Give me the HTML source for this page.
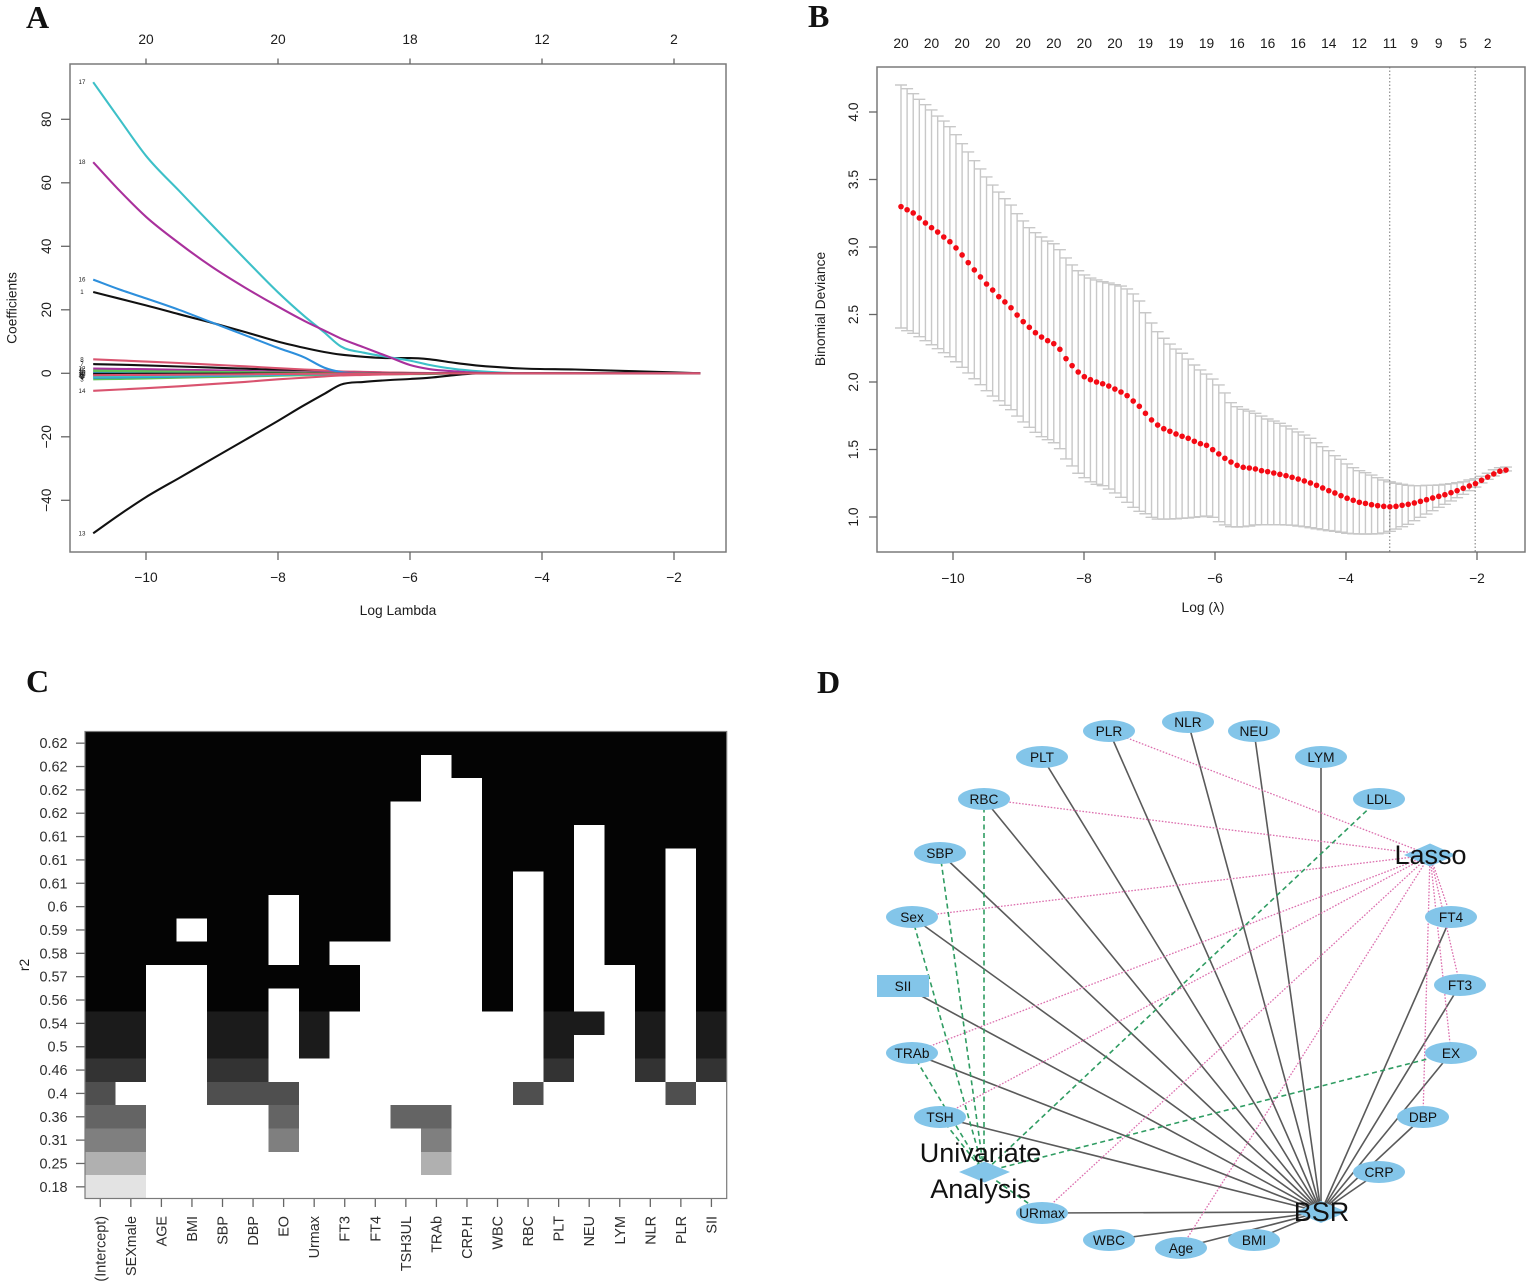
<!DOCTYPE html>
<html lang="en">
<head>
<meta charset="utf-8">
<title>Lasso regression, best subset and variable selection network</title>
<style>
html,body{margin:0;padding:0;background:#fff;}
svg{display:block;filter:blur(0.35px);}
text{font-family:"Liberation Sans",sans-serif;fill:#1c1c1c;}
.letter{font-family:"Liberation Serif",serif;font-weight:bold;font-size:32px;fill:#111;}
.tick{font-size:13.8px;}
.ctick{font-size:14.4px;fill:#2c2c2c;}
.node{fill:#83c5e9;stroke:none;}
.nlabel{font-size:13.7px;text-anchor:middle;fill:#111;}
.big{font-size:27px;text-anchor:middle;fill:#111;}
.solid{stroke:#5a5a5a;stroke-width:1.6;}
.pink{stroke:#dc6fae;stroke-width:1.3;stroke-dasharray:1.6 1.6;}
.green{stroke:#2f9c62;stroke-width:1.6;stroke-dasharray:5 3.5;}
</style>
</head>
<body>
<svg id="figure" xmlns="http://www.w3.org/2000/svg" width="1535" height="1287" viewBox="0 0 1535 1287">
<rect x="0" y="0" width="1535" height="1287" fill="#fff"/>
<text class="letter" x="26" y="28">A</text>
<text class="letter" x="808" y="27">B</text>
<text class="letter" x="26" y="692">C</text>
<text class="letter" x="817" y="693">D</text>

<g id="panelA"></g>
<g id="panelB"></g>
<g id="panelC"></g>

<g id="panelD">
<g>
<line class="solid" x1="1042" y1="757" x2="1321" y2="1212"/>
<line class="solid" x1="1109" y1="731" x2="1321" y2="1212"/>
<line class="solid" x1="1188" y1="722" x2="1321" y2="1212"/>
<line class="solid" x1="1254" y1="731" x2="1321" y2="1212"/>
<line class="solid" x1="1321" y1="757" x2="1321" y2="1212"/>
<line class="solid" x1="984" y1="799" x2="1321" y2="1212"/>
<line class="solid" x1="940" y1="853" x2="1321" y2="1212"/>
<line class="solid" x1="912" y1="917" x2="1321" y2="1212"/>
<line class="solid" x1="903" y1="986" x2="1321" y2="1212"/>
<line class="solid" x1="912" y1="1053" x2="1321" y2="1212"/>
<line class="solid" x1="940" y1="1117" x2="1321" y2="1212"/>
<line class="solid" x1="1042" y1="1213" x2="1321" y2="1212"/>
<line class="solid" x1="1109" y1="1240" x2="1321" y2="1212"/>
<line class="solid" x1="1181" y1="1248" x2="1321" y2="1212"/>
<line class="solid" x1="1254" y1="1240" x2="1321" y2="1212"/>
<line class="solid" x1="1379" y1="1172" x2="1321" y2="1212"/>
<line class="solid" x1="1423" y1="1117" x2="1321" y2="1212"/>
<line class="solid" x1="1451" y1="1053" x2="1321" y2="1212"/>
<line class="solid" x1="1460" y1="985" x2="1321" y2="1212"/>
<line class="solid" x1="1451" y1="917" x2="1321" y2="1212"/>
</g>
<g>
<line class="pink" x1="1109" y1="731" x2="1430" y2="855"/>
<line class="pink" x1="984" y1="799" x2="1430" y2="855"/>
<line class="pink" x1="912" y1="917" x2="1430" y2="855"/>
<line class="pink" x1="912" y1="1053" x2="1430" y2="855"/>
<line class="pink" x1="940" y1="1117" x2="1430" y2="855"/>
<line class="pink" x1="1042" y1="1213" x2="1430" y2="855"/>
<line class="pink" x1="1181" y1="1248" x2="1430" y2="855"/>
<line class="pink" x1="1451" y1="917" x2="1430" y2="855"/>
<line class="pink" x1="1460" y1="985" x2="1430" y2="855"/>
<line class="pink" x1="1451" y1="1053" x2="1430" y2="855"/>
<line class="pink" x1="1423" y1="1117" x2="1430" y2="855"/>
</g>
<g>
<line class="green" x1="984" y1="799" x2="984" y2="1172"/>
<line class="green" x1="940" y1="853" x2="984" y2="1172"/>
<line class="green" x1="912" y1="917" x2="984" y2="1172"/>
<line class="green" x1="912" y1="1053" x2="984" y2="1172"/>
<line class="green" x1="940" y1="1117" x2="984" y2="1172"/>
<line class="green" x1="1379" y1="799" x2="984" y2="1172"/>
<line class="green" x1="1451" y1="1053" x2="984" y2="1172"/>
<line class="green" x1="1042" y1="1213" x2="984" y2="1172"/>
</g>
<g>
<polygon class="node" points="1404,855 1430,843.5 1456,855 1430,866.5"/>
<polygon class="node" points="959,1172 984.5,1161.5 1010,1172 984.5,1182.5"/>
<polygon class="node" points="1295,1212 1321,1201 1347,1212 1321,1223"/>
<rect class="node" x="877" y="975" width="52" height="22"/>
<ellipse class="node" cx="1109" cy="731" rx="26" ry="11"/>
<ellipse class="node" cx="1188" cy="722" rx="26" ry="11"/>
<ellipse class="node" cx="1254" cy="731" rx="26" ry="11"/>
<ellipse class="node" cx="1321" cy="757" rx="26" ry="11"/>
<ellipse class="node" cx="1379" cy="799" rx="26" ry="11"/>
<ellipse class="node" cx="1042" cy="757" rx="26" ry="11"/>
<ellipse class="node" cx="984" cy="799" rx="26" ry="11"/>
<ellipse class="node" cx="940" cy="853" rx="26" ry="11"/>
<ellipse class="node" cx="912" cy="917" rx="26" ry="11"/>
<ellipse class="node" cx="912" cy="1053" rx="26" ry="11"/>
<ellipse class="node" cx="940" cy="1117" rx="26" ry="11"/>
<ellipse class="node" cx="1042" cy="1213" rx="26" ry="11"/>
<ellipse class="node" cx="1109" cy="1240" rx="26" ry="11"/>
<ellipse class="node" cx="1181" cy="1248" rx="26" ry="11"/>
<ellipse class="node" cx="1254" cy="1240" rx="26" ry="11"/>
<ellipse class="node" cx="1379" cy="1172" rx="26" ry="11"/>
<ellipse class="node" cx="1423" cy="1117" rx="26" ry="11"/>
<ellipse class="node" cx="1451" cy="1053" rx="26" ry="11"/>
<ellipse class="node" cx="1460" cy="985" rx="26" ry="11"/>
<ellipse class="node" cx="1451" cy="917" rx="26" ry="11"/>
</g>
<g>
<text class="nlabel" x="1109" y="736">PLR</text>
<text class="nlabel" x="1188" y="727">NLR</text>
<text class="nlabel" x="1254" y="736">NEU</text>
<text class="nlabel" x="1321" y="762">LYM</text>
<text class="nlabel" x="1379" y="804">LDL</text>
<text class="nlabel" x="1042" y="762">PLT</text>
<text class="nlabel" x="984" y="804">RBC</text>
<text class="nlabel" x="940" y="858">SBP</text>
<text class="nlabel" x="912" y="922">Sex</text>
<text class="nlabel" x="903" y="991">SII</text>
<text class="nlabel" x="912" y="1058">TRAb</text>
<text class="nlabel" x="940" y="1122">TSH</text>
<text class="nlabel" x="1042" y="1218">URmax</text>
<text class="nlabel" x="1109" y="1245">WBC</text>
<text class="nlabel" x="1181" y="1253">Age</text>
<text class="nlabel" x="1254" y="1245">BMI</text>
<text class="nlabel" x="1379" y="1177">CRP</text>
<text class="nlabel" x="1423" y="1122">DBP</text>
<text class="nlabel" x="1451" y="1058">EX</text>
<text class="nlabel" x="1460" y="990">FT3</text>
<text class="nlabel" x="1451" y="922">FT4</text>
<text class="big" x="1430.5" y="864">Lasso</text>
<text class="big" x="1321.5" y="1221">BSR</text>
<text class="big" x="980.5" y="1162">Univariate</text>
<text class="big" x="980.5" y="1198">Analysis</text>
</g>
</g>
</svg>

<script>
/* ---------- Panel A data ---------- */
const coefLogLambda = [-10.8,-10.4,-10,-9.5,-9,-8.5,-8,-7.6,-7.3,-7.05,-6.7,-6.3,-6,-5.7,-5.3,-5,-4.7,-4.3,-3.5,-2.5,-1.6];
const coef1  = [25.6,23.5,21.4,18.6,15.9,13,10,8,6.7,5.9,5.2,4.8,4.8,4.4,3.2,2.5,2,1.5,1.2,0.6,0];
const coef2  = [0.2,0.18,0.17,0.15,0.12,0.1,0.08,0.05,0.04,0.03,0.02,0.01,0,0,0,0,0,0,0,0,0];
const coef3  = [-1.9,-1.75,-1.6,-1.4,-1.2,-1,-0.75,-0.6,-0.5,-0.42,-0.36,-0.3,-0.26,-0.2,-0.1,-0.03,0,0,0,0,0];
const coef4  = [-1.4,-1.3,-1.2,-1,-0.85,-0.7,-0.5,-0.35,-0.28,-0.2,-0.14,-0.08,-0.05,-0.03,-0.01,0,0,0,0,0,0];
const coef5  = [-1.1,-1,-0.93,-0.8,-0.68,-0.55,-0.4,-0.3,-0.22,-0.15,-0.11,-0.07,-0.04,-0.02,-0.01,0,0,0,0,0,0];
const coef6  = [-0.4,-0.37,-0.34,-0.3,-0.25,-0.2,-0.15,-0.1,-0.08,-0.06,-0.04,-0.02,-0.02,-0.01,0,0,0,0,0,0,0];
const coef7  = [2.9,2.7,2.5,2.15,1.8,1.45,1.1,0.8,0.6,0.4,0.3,0.2,0.1,0.05,0.03,0,0,0,0,0,0];
const coef8  = [4.4,4.05,3.7,3.25,2.7,2.2,1.6,1.2,0.9,0.6,0.45,0.25,0.15,0.1,0.05,0,0,0,0,0,0];
const coef9  = [1,0.9,0.85,0.75,0.6,0.5,0.35,0.25,0.2,0.15,0.1,0.05,0.05,0.03,0.01,0,0,0,0,0,0];
const coef10 = [0.3,0.28,0.26,0.22,0.19,0.15,0.11,0.08,0.06,0.04,0.03,0.02,0.01,0,0,0,0,0,0,0,0];
const coef11 = [-0.9,-0.83,-0.76,-0.66,-0.56,-0.45,-0.33,-0.24,-0.18,-0.13,-0.09,-0.05,-0.04,-0.02,-0.01,0,0,0,0,0,0];
const coef12 = [1.5,1.38,1.28,1.1,0.93,0.75,0.55,0.4,0.3,0.21,0.15,0.09,0.06,0.03,0.01,0,0,0,0,0,0];
const coef13 = [-50.4,-44.5,-39,-33,-27,-21,-15,-10,-6.5,-3.6,-2.7,-2.1,-1.8,-1.4,-0.5,-0.05,0,0,0,0,0];
const coef14 = [-5.5,-5.1,-4.7,-4.1,-3.4,-2.7,-1.9,-1.4,-1,-0.7,-0.5,-0.3,-0.2,-0.1,-0.05,0,0,0,0,0,0];
const coef15 = [0.7,0.64,0.6,0.52,0.43,0.35,0.26,0.19,0.14,0.1,0.07,0.04,0.03,0.01,0,0,0,0,0,0,0];
const coef16 = [29.5,26.4,23.6,20,16,12,8,5,1.8,0.4,0,0,0,0,0,0,0,0,0,0,0];
const coef17 = [91.7,80,68.5,57.5,46.7,36,25.5,18,12.9,8.5,6.5,5,4,2.6,1.3,0.7,0.3,0.05,0,0,0];
const coef18 = [66.5,57.5,49.3,41,33.5,27,21,16.5,13.5,11,8.2,5,2.6,1.3,0.6,0.2,0.05,0,0,0,0];
const coef19 = [-0.2,-0.18,-0.17,-0.15,-0.12,-0.1,-0.07,-0.05,-0.04,-0.03,-0.02,-0.01,0,0,0,0,0,0,0,0,0];
const coef20 = [-0.6,-0.55,-0.51,-0.44,-0.37,-0.3,-0.22,-0.16,-0.12,-0.08,-0.06,-0.04,-0.02,-0.01,0,0,0,0,0,0,0];
const coefSeries = [coef1,coef2,coef3,coef4,coef5,coef6,coef7,coef8,coef9,coef10,coef11,coef12,coef13,coef14,coef15,coef16,coef17,coef18,coef19,coef20];
const coefPalette = ['#111111','#d9536f','#5fc25a','#2d8fdc','#3dc0c8','#a9309c'];
const coefXTicks = [-10,-8,-6,-4,-2];
const coefYTicks = [-40,-20,0,20,40,60,80];
const coefTopLabels = [20,20,18,12,2];

/* ---------- Panel B data ---------- */
const cvLogLambdaStart = -10.794;
const cvLogLambdaStep = 0.0933;
const cvMean = [3.299,3.276,3.252,3.215,3.178,3.143,3.111,3.074,3.039,2.993,2.941,2.884,2.830,2.778,2.726,2.681,2.632,2.593,2.550,2.496,2.447,2.405,2.365,2.333,2.306,2.284,2.242,2.173,2.121,2.074,2.039,2.017,2.000,1.987,1.970,1.948,1.926,1.899,1.859,1.820,1.768,1.719,1.681,1.654,1.635,1.615,1.598,1.583,1.561,1.543,1.531,1.499,1.467,1.435,1.407,1.383,1.368,1.363,1.356,1.343,1.336,1.326,1.316,1.306,1.294,1.281,1.267,1.252,1.235,1.215,1.195,1.178,1.158,1.139,1.124,1.109,1.101,1.091,1.084,1.079,1.076,1.079,1.087,1.094,1.104,1.116,1.128,1.141,1.153,1.165,1.180,1.195,1.213,1.230,1.247,1.272,1.296,1.319,1.339,1.348];
const cvUpper = [4.200,4.173,4.136,4.094,4.054,4.015,3.970,3.933,3.891,3.832,3.765,3.704,3.639,3.578,3.519,3.459,3.407,3.358,3.311,3.247,3.193,3.143,3.106,3.074,3.044,3.024,2.980,2.919,2.867,2.824,2.793,2.770,2.756,2.743,2.733,2.721,2.711,2.689,2.652,2.600,2.513,2.437,2.373,2.324,2.281,2.244,2.213,2.170,2.126,2.089,2.059,2.022,1.978,1.919,1.847,1.817,1.798,1.785,1.768,1.748,1.726,1.711,1.694,1.674,1.652,1.630,1.607,1.583,1.550,1.521,1.491,1.454,1.427,1.393,1.365,1.343,1.328,1.311,1.291,1.274,1.261,1.250,1.242,1.235,1.232,1.232,1.235,1.235,1.237,1.242,1.247,1.254,1.261,1.274,1.284,1.301,1.324,1.350,1.365,1.370];
const cvLower = [2.400,2.380,2.361,2.336,2.306,2.276,2.247,2.217,2.187,2.150,2.109,2.067,2.024,1.980,1.936,1.896,1.861,1.827,1.795,1.748,1.704,1.664,1.627,1.595,1.573,1.550,1.506,1.430,1.378,1.324,1.291,1.261,1.242,1.232,1.207,1.178,1.146,1.109,1.072,1.042,1.024,0.998,0.985,0.985,0.985,0.987,0.990,0.993,0.998,1.002,1.007,0.998,0.965,0.941,0.928,0.926,0.928,0.933,0.941,0.943,0.943,0.943,0.943,0.941,0.939,0.933,0.928,0.921,0.913,0.906,0.899,0.894,0.887,0.879,0.876,0.874,0.874,0.874,0.876,0.881,0.894,0.911,0.928,0.946,0.973,0.998,1.022,1.047,1.072,1.094,1.119,1.143,1.168,1.195,1.222,1.252,1.279,1.304,1.328,1.341];
const cvXTicks = [-10,-8,-6,-4,-2];
const cvYTicks = [1,1.5,2,2.5,3,3.5,4];
const cvTopIndex = [0,5,10,15,20,25,30,35,40,45,50,55,60,65,70,75,80,84,88,92,96];
const cvTopLabels = [20,20,20,20,20,20,20,20,19,19,19,16,16,16,14,12,11,9,9,5,2];
const cvSelectedLambda = [-3.332,-2.028];

/* ---------- Panel C data ---------- */
const subsetVariables = ['(Intercept)','SEXmale','AGE','BMI','SBP','DBP','EO','Urmax','FT3','FT4','TSH3UL','TRAb','CRP.H','WBC','RBC','PLT','NEU','LYM','NLR','PLR','SII'];
const subsetR2Labels = ['0.62','0.62','0.62','0.62','0.61','0.61','0.61','0.6','0.59','0.58','0.57','0.56','0.54','0.5','0.46','0.4','0.36','0.31','0.25','0.18'];
const subsetRowGray = [4,4,4,4,4,4,4,4,4,4,4,4,27,27,51,79,100,127,176,227];
const subsetIncluded = [
'11111111111111111111',
'11111111111111101111',
'11111111110000000000',
'11111111010000000000',
'11111111111111110000',
'11111111111111110000',
'11111110001000011100',
'11111111111111000000',
'11111111101100000000',
'11111111100000000000',
'11100000000000001000',
'10000000000000001110',
'11000000000000000000',
'11111111111100000000',
'11111100000000010000',
'11111111111111100000',
'11110000000010000000',
'11111111110000000000',
'11111111111111100000',
'11111000000000010000',
'11111111111111100000'
];

/* ---------- helpers ---------- */
const NS = 'http://www.w3.org/2000/svg';
function make(tag, parent, props, content) {
  const e = document.createElementNS(NS, tag);
  for (const k in props) e.setAttribute(k, props[k]);
  if (content !== undefined) e.textContent = content;
  parent.appendChild(e);
  return e;
}
const fmtNeg = v => (v < 0 ? '\u2212' + Math.abs(v) : String(v));
/* smooth curve through sorted points using limited cubic tangents */
function smoothPath(xs, ys) {
  const n = xs.length;
  const d = [];
  for (let i = 0; i < n - 1; i++) d.push((ys[i + 1] - ys[i]) / (xs[i + 1] - xs[i]));
  const m = [d[0]];
  for (let i = 1; i < n - 1; i++) {
    const h0 = xs[i] - xs[i - 1], h1 = xs[i + 1] - xs[i];
    m.push(d[i - 1] * d[i] <= 0 ? 0 : (d[i - 1] * h1 + d[i] * h0) / (h0 + h1));
  }
  m.push(d[n - 2]);
  let out = 'M' + xs[0].toFixed(1) + ' ' + ys[0].toFixed(1);
  for (let i = 0; i < n - 1; i++) {
    const h = (xs[i + 1] - xs[i]) / 3;
    out += 'C' + (xs[i] + h).toFixed(1) + ' ' + (ys[i] + m[i] * h).toFixed(1) + ' ' +
      (xs[i + 1] - h).toFixed(1) + ' ' + (ys[i + 1] - m[i + 1] * h).toFixed(1) + ' ' +
      xs[i + 1].toFixed(1) + ' ' + ys[i + 1].toFixed(1);
  }
  return out;
}

/* ---------- Panel A ---------- */
(function () {
  const g = document.getElementById('panelA');
  const xA = v => 146 + 66 * (v + 10);
  const yA = v => 373.3 - 3.175 * v;
  const box = make('rect', g, {x:70, y:64, width:656, height:488, fill:'none', stroke:'#7a7a7a', 'stroke-width':1.5});
  
  

  coefXTicks.forEach((v, i) => {
    const t = make('line', g, {x1:xA(v), x2:xA(v), y1:552, y2:560, stroke:'#666', 'stroke-width':1.3});
    
    
    const l = make('text', g, {x:xA(v), y:582, 'text-anchor':'middle', class:'tick'}, fmtNeg(v));
    
    
    const tt = make('line', g, {x1:xA(v), x2:xA(v), y1:64, y2:58.5, stroke:'#666', 'stroke-width':1.3});
    
    
    const tl = make('text', g, {x:xA(v), y:44, 'text-anchor':'middle', class:'tick'}, coefTopLabels[i]);
    
    
  });
  coefYTicks.forEach(v => {
    const t = make('line', g, {x1:61, x2:70, y1:yA(v), y2:yA(v), stroke:'#666', 'stroke-width':1.3});
    
    
    const l = make('text', g, {transform:'translate(51,' + yA(v) + ') rotate(-90)', 'text-anchor':'middle', class:'tick'}, fmtNeg(v));
    
    
  });
  coefSeries.forEach((vals, s) => {
    const p = make('path', g, {d:smoothPath(coefLogLambda.map(xA), vals.map(yA)), fill:'none', stroke:coefPalette[s % 6], 'stroke-width':2.1, 'stroke-linejoin':'round'});
    
    
    const l = make('text', g, {x:82, y:yA(vals[0]) + 2, 'text-anchor':'middle', 'font-size':6.2, fill:'#333'}, s + 1);
    
    
  });
  const xt = make('text', g, {x:398, y:615, 'text-anchor':'middle', class:'tick'}, 'Log Lambda');
  
  
  const yt = make('text', g, {transform:'translate(16.5,308) rotate(-90)', 'text-anchor':'middle', class:'tick'}, 'Coefficients');
  
  
})();

/* ---------- Panel B ---------- */
(function () {
  const g = document.getElementById('panelB');
  const xB = v => 953 + 65.5 * (v + 10);
  const yB = v => 517 - 135 * (v - 1);
  const lam = i => cvLogLambdaStart + cvLogLambdaStep * i;
  const box = make('rect', g, {x:877, y:67, width:648, height:485, fill:'none', stroke:'#7a7a7a', 'stroke-width':1.5});
  
  

  cvXTicks.forEach(v => {
    const t = make('line', g, {x1:xB(v), x2:xB(v), y1:552, y2:560, stroke:'#666', 'stroke-width':1.3});
    
    
    const l = make('text', g, {x:xB(v), y:583, 'text-anchor':'middle', class:'tick'}, fmtNeg(v));
    
    
  });
  cvYTicks.forEach(v => {
    const t = make('line', g, {x1:869, x2:877, y1:yB(v), y2:yB(v), stroke:'#666', 'stroke-width':1.3});
    
    
    const l = make('text', g, {transform:'translate(858,' + yB(v) + ') rotate(-90)', 'text-anchor':'middle', class:'tick'}, v.toFixed(1));
    
    
  });
  cvTopIndex.forEach((idx, i) => {
    const l = make('text', g, {x:xB(lam(idx)), y:48, 'text-anchor':'middle', class:'tick'}, cvTopLabels[i]);
    
    
  });
  cvMean.forEach((m, i) => {
    const x = xB(lam(i));
    const w = make('path', g, {d:'M' + (x-6) + ' ' + yB(cvUpper[i]) + 'H' + (x+6) + 'M' + x + ' ' + yB(cvUpper[i]) + 'V' + yB(cvLower[i]) + 'M' + (x-6) + ' ' + yB(cvLower[i]) + 'H' + (x+6), fill:'none', stroke:'#c8c8c8', 'stroke-width':1.4});
    
    
  });
  cvSelectedLambda.forEach(v => {
    const d = make('line', g, {x1:xB(v), x2:xB(v), y1:67, y2:552, stroke:'#777', 'stroke-width':1, 'stroke-dasharray':'1.5 2'});
    
    
  });
  cvMean.forEach((m, i) => {
    const c = make('circle', g, {cx:xB(lam(i)), cy:yB(m), r:2.8, fill:'#f40a14'});
    
    
  });
  const xt = make('text', g, {x:1203, y:612, 'text-anchor':'middle', class:'tick', 'xml:space':'preserve'}, 'Log (\u03BB)');
  
  
  const yt = make('text', g, {transform:'translate(825,309) rotate(-90)', 'text-anchor':'middle', class:'tick'}, 'Binomial Deviance');
  
  
})();

/* ---------- Panel C ---------- */
(function () {
  const g = document.getElementById('panelC');
  const colW = 641.7 / subsetVariables.length;
  const rowH = 467 / subsetR2Labels.length;
  const xC = i => 85 + colW * i;
  const yC = i => 731.5 + rowH * i;
  subsetVariables.forEach((name, c) => {
    subsetR2Labels.forEach((r2, r) => {
      if (subsetIncluded[c][r] !== '1') return;
      const gray = subsetRowGray[r];
      const cell = make('rect', g, {x:xC(c), y:yC(r), width:colW, height:rowH, fill:'rgb(' + gray + ',' + gray + ',' + gray + ')', 'shape-rendering':'crispEdges'});
      
      
    });
    const cx = xC(c) + colW / 2;
    const t = make('line', g, {x1:cx, x2:cx, y1:1198, y2:1207, stroke:'#666', 'stroke-width':1.3});
    
    
    const l = make('text', g, {transform:'translate(' + (cx + 5) + ',1216) rotate(-90)', 'text-anchor':'end', class:'ctick'}, name);
    
    
  });
  subsetR2Labels.forEach((r2, r) => {
    const cy = yC(r) + rowH / 2;
    const t = make('line', g, {x1:76, x2:85, y1:cy, y2:cy, stroke:'#666', 'stroke-width':1.3});
    
    
    const l = make('text', g, {x:67.5, y:cy + 5, 'text-anchor':'end', class:'ctick'}, r2);
    
    
  });
  const box = make('rect', g, {x:85, y:731.5, width:641.7, height:467, fill:'none', stroke:'#7a7a7a', 'stroke-width':1.2});
  
  
  const yt = make('text', g, {transform:'translate(29,965) rotate(-90)', 'text-anchor':'middle', class:'tick'}, 'r2');
  
  
})();
</script>
</body>
</html>
